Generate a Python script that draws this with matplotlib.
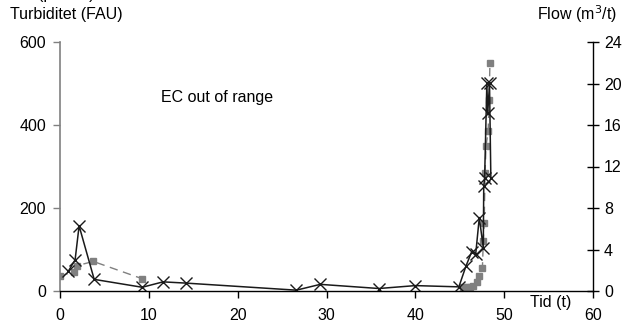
import numpy as np
from matplotlib import pyplot as plt

plt.rcParams['font.family'] = ['Liberation Sans', 'DejaVu Sans']
plt.rcParams['font.size'] = 11.5

#---- Data

# turbidity (left axis), black crosses
tid_turb = [0.95, 1.7, 2.15, 3.85, 9.25, 11.6, 14.2, 26.6, 29.3, 35.9, 40.0,
            44.9, 45.7, 46.35, 46.8, 47.2, 47.65, 47.7, 47.8, 48.05, 48.15,
            48.35, 48.5]
turbiditet = [48, 75, 157, 28, 9, 22, 19, 2, 16, 6, 13,
              10, 60, 95, 90, 177, 104, 252, 273, 500, 428,
              500, 273]

# flow (right axis), grey squares -- gap where nothing was logged
tid_flow = [0.0, 1.55, 1.95, 3.75, 9.2, 27.0,
            45.4, 45.8, 46.2, 46.5, 46.9, 47.2, 47.55, 47.65, 47.75, 47.85,
            47.96, 48.2, 48.3, 48.4]
flow = [1.45, 1.85, 2.45, 2.85, 1.2, np.nan,
        0.4, 0.4, 0.4, 0.5, 0.9, 1.4, 2.2, 4.8, 6.6, 11.4,
        14.0, 15.4, 18.4, 22.0]

x_ticks = [0, 10, 20, 30, 40, 50, 60]
left_ticks = [0, 200, 400, 600]
right_ticks = [0, 4, 8, 12, 16, 20, 24]

grey = '#808080'

#---- Plot

fig = plt.figure(figsize=(6.23, 3.22), dpi=100)
ax = fig.add_axes([60/623, 1-291/322, 533/623, 249/322])
ax2 = ax.twinx()

ax2.plot(tid_flow, flow, ls=(0, (6, 4)), color=grey, lw=1.0,
         marker='s', ms=4, mfc=grey, mec=grey)

ax.plot(tid_turb, turbiditet, color='#1a1a1a', lw=1.1,
        marker='x', ms=8, mew=1.0)

ax.set_zorder(ax2.get_zorder() + 1)
ax.patch.set_visible(False)

ax.set_xlim(0, 60)
ax.set_ylim(0, 600)
ax2.set_ylim(0, 24)
ax.set_xticks(x_ticks)
ax.set_yticks(left_ticks)
ax2.set_yticks(right_ticks)

for a in (ax, ax2):
    a.spines['top'].set_visible(False)
ax.spines['right'].set_visible(False)
ax2.spines['left'].set_visible(False)
ax2.spines['bottom'].set_visible(False)
ax.spines['left'].set_color(grey)
ax.spines['left'].set_linewidth(1.2)
ax.spines['bottom'].set_linewidth(1.0)
ax2.spines['right'].set_linewidth(1.0)

ax.tick_params(axis='x', direction='out', length=5, width=1, pad=7)
ax.tick_params(axis='y', direction='out', length=5, width=1, pad=5,
               color=grey)
ax2.tick_params(axis='y', direction='inout', length=8, width=1, pad=4)

# label cut off by the top edge of the figure
fig.text(38/623, 1 + 1/322, '(µS/cm)', ha='left', va='baseline')
fig.text(10/623, 1-14/322, 'Turbiditet (FAU)', ha='left', va='center')
fig.text(577/623, 1-14/322, r'Flow (m$^3$/t)', ha='center', va='center')
fig.text(551/623, 1-302/322, 'Tid (t)', ha='center', va='center')
ax.text(11.4, 467, 'EC out of range', ha='left', va='center')

plt.savefig('out.png', dpi=100)
